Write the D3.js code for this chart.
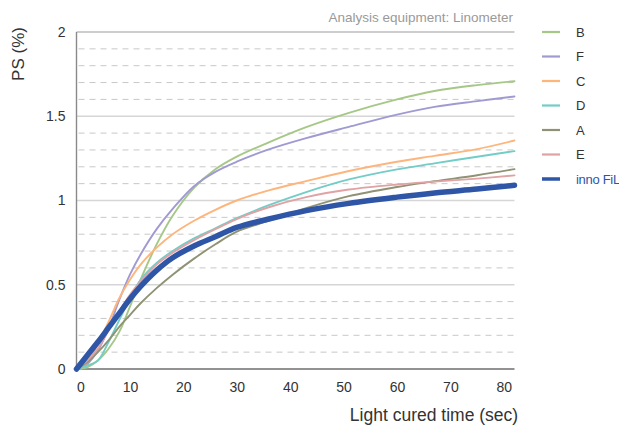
<!DOCTYPE html>
<html>
<head>
<meta charset="utf-8">
<script src="https://cdn.jsdelivr.net/npm/d3@7/dist/d3.min.js"></script>
<style>
  html, body { margin: 0; padding: 0; background: #fff; }
  svg { display: block; font-family: "Liberation Sans", Arial, Helvetica, sans-serif; }
</style>
</head>
<body>
<svg id="chart"></svg>
<script>
// light cured time (sec)
const times = [0, 2, 4, 6, 8, 10, 12, 15, 18, 22, 26, 30, 36, 43, 51, 60, 67, 75, 82];

// PS (%) per product
const seriesB = [0, 0.01, 0.05, 0.12, 0.22, 0.37, 0.53, 0.74, 0.91, 1.075, 1.185, 1.26, 1.345, 1.435, 1.52, 1.60, 1.65, 1.685, 1.708];
const seriesF = [0, 0.03, 0.11, 0.24, 0.41, 0.56, 0.68, 0.83, 0.95, 1.085, 1.17, 1.23, 1.303, 1.37, 1.437, 1.51, 1.556, 1.59, 1.617];
const seriesC = [0, 0.04, 0.15, 0.28, 0.42, 0.53, 0.62, 0.72, 0.80, 0.88, 0.945, 1.0, 1.06, 1.115, 1.175, 1.23, 1.265, 1.305, 1.356];
const seriesD = [0, 0.02, 0.05, 0.16, 0.29, 0.42, 0.53, 0.63, 0.70, 0.775, 0.835, 0.895, 0.972, 1.05, 1.125, 1.185, 1.22, 1.26, 1.293];
const seriesA = [0, 0.04, 0.10, 0.17, 0.25, 0.32, 0.39, 0.48, 0.56, 0.655, 0.74, 0.815, 0.88, 0.955, 1.026, 1.08, 1.114, 1.15, 1.186];
const seriesE = [0, 0.05, 0.12, 0.23, 0.34, 0.44, 0.52, 0.62, 0.69, 0.765, 0.83, 0.89, 0.96, 1.02, 1.065, 1.095, 1.112, 1.13, 1.149];
const seriesInno = [0, 0.08, 0.16, 0.245, 0.33, 0.415, 0.49, 0.585, 0.66, 0.73, 0.785, 0.84, 0.89, 0.94, 0.983, 1.02, 1.045, 1.068, 1.09];

const names = ['B', 'F', 'C', 'D', 'A', 'E', 'inno FiL'];
const colors = ['#a5c887', '#a09ad2', '#fdb57c', '#72cdc6', '#8f9274', '#e0a2a4', '#2f55a7'];
const values = [seriesB, seriesF, seriesC, seriesD, seriesA, seriesE, seriesInno];

const xTicks = [0, 10, 20, 30, 40, 50, 60, 70, 80];
const yTicks = [0, 0.5, 1, 1.5, 2];

const width = 619;
const height = 432;

const svg = d3.select('#chart')
  .attr('width', width)
  .attr('height', height);

const x = d3.scaleLinear().domain([0, 82]).range([76.5, 514.5]);
const y = d3.scaleLinear().domain([0, 2]).range([369, 32]);

// minor dashed grid every 0.1
const minor = d3.range(1, 20).map(d => d / 10).filter(d => Math.round(d * 10) % 5 !== 0);
svg.append('g')
  .selectAll('line')
  .data(minor)
  .enter()
  .append('line')
  .attr('x1', x(0) + 2)
  .attr('x2', x(82))
  .attr('y1', d => y(d))
  .attr('y2', d => y(d))
  .attr('stroke', '#c8c8c8')
  .attr('stroke-width', 1)
  .attr('stroke-dasharray', '6,5');

// major solid grid
svg.append('g')
  .selectAll('line')
  .data(yTicks.slice(1))
  .enter()
  .append('line')
  .attr('x1', x(0))
  .attr('x2', x(82))
  .attr('y1', d => y(d))
  .attr('y2', d => y(d))
  .attr('stroke', d => d === 2 ? '#bdbdbd' : '#d6d6d6')
  .attr('stroke-width', 1.4);

// axis lines
svg.append('line')
  .attr('x1', x(0)).attr('x2', x(0))
  .attr('y1', y(2)).attr('y2', y(0))
  .attr('stroke', '#8a8a8a').attr('stroke-width', 1.4);

svg.append('line')
  .attr('x1', x(0)).attr('x2', x(82))
  .attr('y1', y(0)).attr('y2', y(0))
  .attr('stroke', '#6e6e6e').attr('stroke-width', 1.6);

// tick labels
const yAxis = d3.axisLeft(y)
  .tickValues(yTicks)
  .tickSize(0)
  .tickPadding(11)
  .tickFormat(d3.format('~g'));

svg.append('g')
  .attr('transform', 'translate(' + x(0) + ',0)')
  .call(yAxis)
  .call(g => g.select('.domain').remove())
  .selectAll('text')
  .attr('font-size', 14)
  .attr('fill', '#333')
  .attr('font-family', '"Liberation Sans", Arial, sans-serif');

const xAxis = d3.axisBottom(x)
  .tickValues(xTicks)
  .tickSize(0)
  .tickPadding(13)
  .tickFormat(d3.format('d'));

svg.append('g')
  .attr('transform', 'translate(0,' + y(0) + ')')
  .call(xAxis)
  .call(g => g.select('.domain').remove())
  .selectAll('text')
  .attr('font-size', 14)
  .attr('fill', '#333')
  .attr('font-family', '"Liberation Sans", Arial, sans-serif')
  .attr('dx', d => d === 0 ? 4 : 0);

// curves
const line = d3.line()
  .x((d, i) => x(times[i]))
  .y(d => y(d))
  .curve(d3.curveCatmullRom.alpha(0.5));

svg.append('g')
  .selectAll('path')
  .data(values)
  .enter()
  .append('path')
  .attr('fill', 'none')
  .attr('stroke', (d, i) => colors[i])
  .attr('stroke-width', (d, i) => names[i] === 'inno FiL' ? 5.5 : 1.9)
  .attr('stroke-linecap', 'round')
  .attr('d', line);

// legend
const legend = svg.append('g')
  .selectAll('g')
  .data(names)
  .enter()
  .append('g')
  .attr('transform', (d, i) => 'translate(542,' + (32 + i * 24.5) + ')');

legend.append('line')
  .attr('x1', 0).attr('x2', 18)
  .attr('stroke', (d, i) => colors[i])
  .attr('stroke-width', d => d === 'inno FiL' ? 3.5 : 2.2);

legend.append('text')
  .attr('x', 34)
  .attr('dy', '0.36em')
  .attr('font-size', 13)
  .attr('letter-spacing', d => d === 'inno FiL' ? -0.3 : 0)
  .attr('fill', d => d === 'inno FiL' ? '#2f55a7' : '#333')
  .text(d => d);

// titles
svg.append('text')
  .attr('x', 513)
  .attr('y', 22)
  .attr('text-anchor', 'end')
  .attr('font-size', 13.5)
  .attr('fill', '#9a9a9a')
  .text('Analysis equipment: Linometer');

svg.append('text')
  .attr('transform', 'translate(24,54) rotate(-90)')
  .attr('text-anchor', 'middle')
  .attr('font-size', 17)
  .attr('fill', '#333')
  .text('PS (%)');

svg.append('text')
  .attr('x', 434)
  .attr('y', 421)
  .attr('text-anchor', 'middle')
  .attr('font-size', 17.5)
  .attr('fill', '#333')
  .text('Light cured time (sec)');
</script>
</body>
</html>
